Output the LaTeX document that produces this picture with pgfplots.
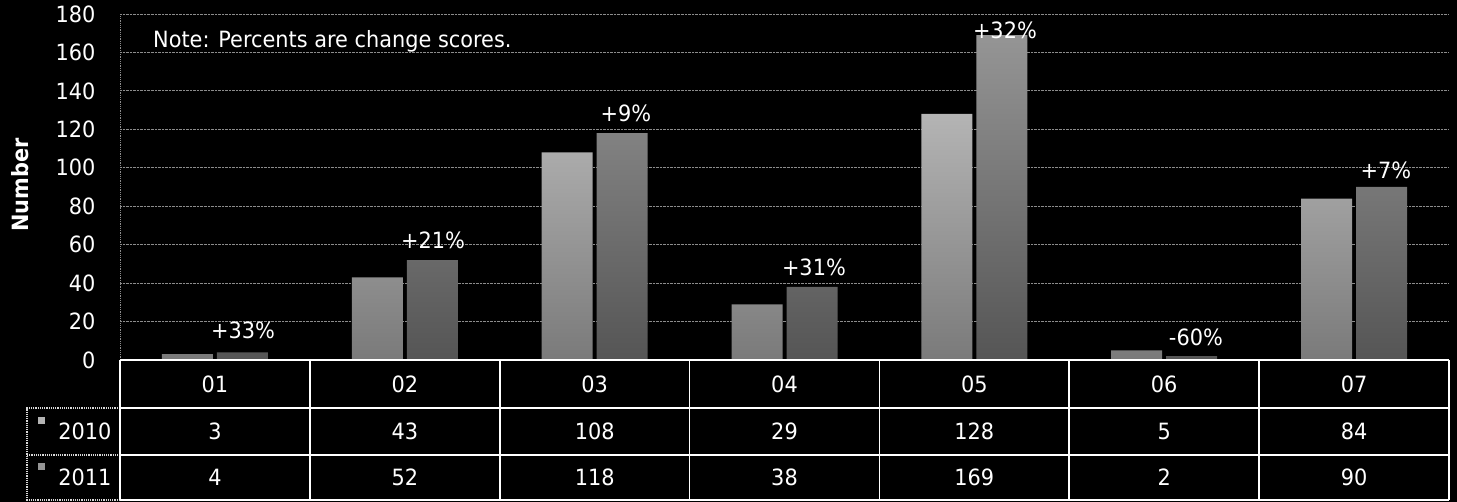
\documentclass[border=0pt]{standalone}
\usepackage{fontspec}
\setmainfont{DejaVu Sans}[FakeStretch=0.93]
\usepackage{pgfplots}
\pgfplotsset{compat=1.18}
\usepackage{pgfplotstable}
\pgfplotstableread{
x v2010 v2011
0 3 4
1 43 52
2 108 118
3 29 38
4 128 169
5 5 2
6 84 90
}\datatable
\definecolor{gridgray}{HTML}{8C8C8C}
\definecolor{barA}{HTML}{8A8A8A}
\definecolor{barAtop}{HTML}{B4B4B4}
\definecolor{barAbot}{HTML}{7A7A7A}
\definecolor{barB}{HTML}{6A6A6A}
\definecolor{barBtop}{HTML}{959595}
\definecolor{barBbot}{HTML}{555555}
\begin{document}
\begin{tikzpicture}[font=\fontsize{22.5}{26}\selectfont]
\fill[black] (0,0) rectangle (1457bp,502bp);
\useasboundingbox (0,0) rectangle (1457bp,502bp);
\begin{axis}[
  at={(120bp,142bp)}, anchor=south west,
  scale only axis, width=1329bp, height=346bp,
  xmin=-0.5, xmax=6.5, ymin=0, ymax=180,
  ytick={0,20,...,180},
  xtick=\empty,
  axis x line=none,
  axis y line*=left,
  y axis line style={densely dotted, gridgray, line width=0.8bp},
  ymajorgrids,
  grid style={densely dotted, gridgray, line width=0.8bp},
  major tick length=0pt,
  /pgf/number format/assume math mode=true,
  yticklabel style={text=white, font=\fontsize{22.5}{26}\selectfont, xshift=-21bp},
  clip=false,
]
\addplot[ybar, bar width=51bp, bar shift=-27.5bp, draw=none,
  top color=barAtop, middle color=barA, bottom color=barAbot]
  table[x=x, y=v2010]{\datatable};
\addplot[ybar, bar width=51bp, bar shift=27.5bp, draw=none,
  top color=barBtop, middle color=barB, bottom color=barBbot]
  table[x=x, y=v2011]{\datatable};
\node[text=white] at (axis cs:0.148,15.6) {+33\%};
\node[text=white] at (axis cs:1.149,62.4) {+21\%};
\node[text=white] at (axis cs:2.165,128.5) {+9\%};
\node[text=white] at (axis cs:3.155,48.4) {+31\%};
\node[text=white] at (axis cs:4.161,171.7) {+32\%};
\node[text=white] at (axis cs:5.167,12.0) {-60\%};
\node[text=white] at (axis cs:6.168,98.9) {+7\%};
\end{axis}
% note and y label
\node[text=white, anchor=base west, inner sep=0pt] at (153bp,454bp) {Note: Percents are change scores.};
\node[text=white, rotate=90, font=\fontsize{22.5}{26}\selectfont\bfseries] at (20bp,317bp) {Number};
% data table
\draw[white, line width=1.8bp] (120bp,142bp) -- (1449bp,142bp);
\draw[white, line width=1.8bp] (120bp,94bp) -- (1449bp,94bp);
\draw[white, line width=1.8bp] (120bp,47bp) -- (1449bp,47bp);
\draw[white, line width=1.8bp] (120bp,2bp) -- (1449bp,2bp);
\draw[white!85!black, densely dotted, line width=1.2bp] (120bp,94bp) -- (27bp,94bp) -- (27bp,2bp) -- (120bp,2bp);
\draw[white!85!black, densely dotted, line width=1.2bp] (27bp,47bp) -- (120bp,47bp);
\foreach \k in {0,...,7} {
  \pgfmathsetmacro\lx{120+\k*189.857}
  \draw[white, line width=1.8bp] (\lx bp,142bp) -- (\lx bp,2bp);
}
\foreach \k in {0,...,6} {
  \pgfmathsetmacro\cx{120+(\k+0.5)*189.857}
  \pgfmathtruncatemacro\lab{\k+1}
  \node[text=white] at (\cx bp,118bp) {0\lab};
  \pgfplotstablegetelem{\k}{v2010}\of\datatable
  \node[text=white] at (\cx bp,70.5bp) {\pgfplotsretval};
  \pgfplotstablegetelem{\k}{v2011}\of\datatable
  \node[text=white] at (\cx bp,24.5bp) {\pgfplotsretval};
}
\node[text=white, anchor=east] at (115bp,70.5bp) {2010};
\node[text=white, anchor=east] at (115bp,24.5bp) {2011};
\fill[barAtop] (38bp,78bp) rectangle (45bp,85bp);
\fill[barBtop] (38bp,32bp) rectangle (45bp,39bp);
\end{tikzpicture}
\end{document}
